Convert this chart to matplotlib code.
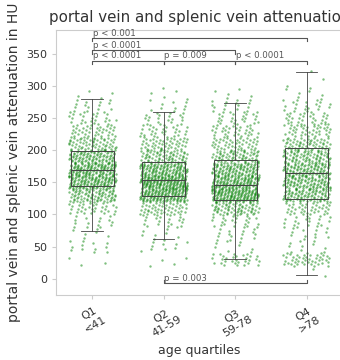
import numpy as np
import matplotlib
matplotlib.use("Agg")
import matplotlib.pyplot as plt

# Age groups
categories = ["Q1\n<41", "Q2\n41-59", "Q3\n59-78", "Q4\n>78"]

# Box statistics per group (HU)
whisker_low = [75, 62, 31, 6]
quart_low = [145, 129, 123, 124]
medians = [169, 154, 146, 164]
quart_high = [199, 181, 185, 204]
whisker_high = [280, 260, 274, 322]

# Individual measurements, summarised as counts per 20-HU bin
bin_edges = [0, 20, 40, 60, 80, 100, 120, 140, 160, 180, 200,
             220, 240, 260, 280, 300, 320, 340]
counts_q1 = [0, 3, 12, 6, 15, 35, 80, 130, 130, 100, 60, 40, 25, 14, 4, 0, 0]
counts_q2 = [0, 4, 10, 8, 20, 50, 150, 170, 130, 70, 50, 30, 20, 10, 5, 0, 0]
counts_q3 = [0, 30, 8, 15, 25, 70, 160, 140, 110, 70, 45, 35, 25, 15, 5, 0, 0]
counts_q4 = [2, 45, 10, 12, 20, 40, 90, 100, 100, 80, 60, 40, 30, 20, 8, 1, 1]
group_counts = [counts_q1, counts_q2, counts_q3, counts_q4]

# Pairwise comparisons: (group a, group b, level in HU, label)
comparisons = [
    (0, 1, 339, "p < 0.0001"),
    (1, 2, 339, "p = 0.009"),
    (2, 3, 339, "p < 0.0001"),
    (0, 2, 355, "p < 0.0001"),
    (0, 3, 374, "p < 0.001"),
]
low_comparisons = [(1, 3, -7, "p = 0.003")]

fig = plt.figure(figsize=(3.4, 3.6), dpi=100)
ax = fig.add_axes([0.166, 0.181, 0.841, 0.736])

# spread points evenly inside each bin with the R2 low-discrepancy sequence
a1 = 0.7548776662466927
a2 = 0.5698402909980532

for gi, counts in enumerate(group_counts):
    xs, ys = [], []
    k = 0
    for lo, hi, c in zip(bin_edges[:-1], bin_edges[1:], counts):
        for j in range(c):
            k += 1
            fx = (0.5 + 0.21 * gi + k * a1) % 1.0
            fy = (0.5 + 0.37 * gi + k * a2) % 1.0
            ys.append(lo + fy * (hi - lo))
            xs.append(gi + (fx - 0.5) * 0.66)
    ax.scatter(xs, ys, s=3, color="green", alpha=0.5, linewidths=0, zorder=1)

stats = []
for i in range(len(categories)):
    stats.append(dict(med=medians[i], q1=quart_low[i], q3=quart_high[i],
                      whislo=whisker_low[i], whishi=whisker_high[i], fliers=[]))
edge = "#444444"
ax.bxp(stats, positions=range(len(categories)), widths=0.6, showfliers=False,
       patch_artist=True, capwidths=0.3,
       boxprops=dict(facecolor="none", edgecolor=edge, linewidth=0.7),
       medianprops=dict(color=edge, linewidth=0.8),
       whiskerprops=dict(color=edge, linewidth=0.6),
       capprops=dict(color=edge, linewidth=0.6), zorder=3)

line_col = "#555555"
tip = 5
for a, b, level, label in comparisons:
    ax.plot([a, a, b, b], [level - tip, level, level, level - tip],
            color=line_col, lw=0.8, zorder=4)
    ax.text(a + 0.01, level + 1, label, fontsize=6.2, color="#555555",
            ha="left", va="bottom")
for a, b, level, label in low_comparisons:
    ax.plot([a, a, b, b], [level + tip, level, level, level + tip],
            color=line_col, lw=0.8, zorder=4)
    ax.text(a + 0.01, level + 1, label, fontsize=6.2, color="#555555",
            ha="left", va="bottom")

ax.set_xlim(-0.5, 3.5)
ax.set_ylim(-25, 387)
ax.set_yticks([0, 50, 100, 150, 200, 250, 300, 350])
ax.set_xticks(range(len(categories)))
ax.set_xticklabels(categories, rotation=30, ha="center")
for sp in ax.spines.values():
    sp.set_color("#cccccc")
    sp.set_linewidth(0.8)
ax.tick_params(colors="#cccccc", labelcolor="#333333", labelsize=8, length=3, width=0.8)

ax.set_title("portal vein and splenic vein attenuation", fontsize=10.8, color="#333333")
ax.set_xlabel("age quartiles", fontsize=9, color="#333333")
ax.set_ylabel("portal vein and splenic vein attenuation in HU", fontsize=10, color="#333333")

fig.savefig("out.png", dpi=100)
